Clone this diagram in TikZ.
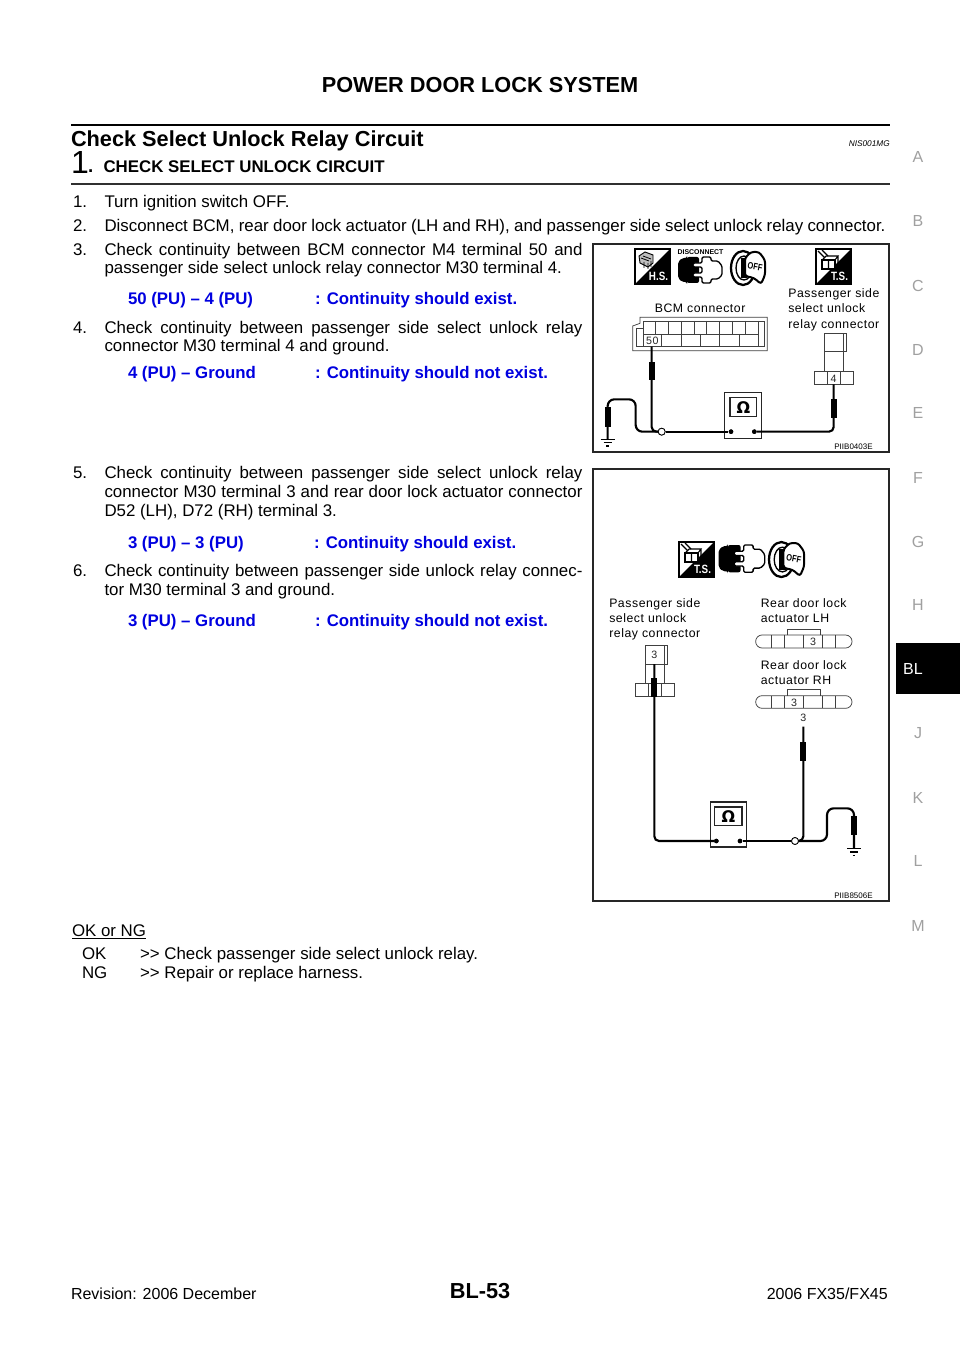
\documentclass[tikz,border=0pt]{standalone}
\usepackage{fontspec}
\usepackage{graphicx}
\setmainfont{Liberation Sans}
\newfontfamily\dejavu{DejaVu Sans}
\definecolor{linkblue}{HTML}{0000E0}
\definecolor{tabgray}{HTML}{A0A0A0}
\definecolor{rulegray}{HTML}{303030}
\newcommand{\fsz}[1]{\fontsize{#1}{#1}\selectfont}
\newcommand{\lbl}{\fsz{9.2}\addfontfeature{LetterSpace=4.5}}
\newcommand{\jline}[1]{\makebox[358.5pt][s]{#1}}
\tikzset{
 txt/.style={anchor=base west,inner sep=0pt,outer sep=0pt,font=\fsz{12.65}},
 bluetxt/.style={txt,text=linkblue,font=\fsz{12.6}\bfseries},
 side/.style={inner sep=0pt,text=tabgray,font=\fsz{12}},
 code/.style={anchor=base,inner sep=0pt,font=\fsz{6}},
 dlabel/.style={anchor=base west,inner sep=0pt,font=\lbl},
 term/.style={inner sep=0pt,font=\fsz{8}\addfontfeature{LetterSpace=4},text=black!85},
 thin line/.style={draw=black!75,line width=.55pt},
 frame/.style={draw=black!85,line width=1pt},
 wire/.style={draw=black,line width=1.6pt,rounded corners=3.5pt},
 sleeve/.style={fill=black,draw=none},
 dot/.style={circle,fill=black,inner sep=0pt,minimum size=3.4pt},
 joint/.style={circle,draw=black,fill=white,line width=.6pt,inner sep=0pt,minimum size=5.2pt},
}
\newcommand{\badge}[3]{%
 \begin{scope}[shift={(#1,#2)}]
  \draw[black,line width=.8pt,fill=white] (0,0) rectangle (35,35);
  \fill[black] (35,0) -- (35,35) -- (0,35) -- cycle;
  \node[inner sep=0pt,text=white,font=\fsz{9}\bfseries] at (23.5,27.5) {\scalebox{.82}[1]{#3}};
 \end{scope}}
\newcommand{\hsglyph}[2]{%
 \begin{scope}[shift={(#1,#2)}]
  \draw[black,line width=.7pt,fill=black!25] (3,6) -- (9,2) -- (17,5) -- (17,13) -- (12,17) -- (4,13) -- cycle;
  \draw[black,line width=.6pt] (5,8) -- (13,11) (7,6) -- (15,9) (8,12) -- (8,18) (12,13) -- (12,19) (15,11) -- (15,17);
 \end{scope}}
\newcommand{\tsglyph}[2]{%
 \begin{scope}[shift={(#1,#2)}]
  \draw[black,line width=.8pt,fill=white] (6,11) rectangle (19,20);
  \draw[black,line width=.8pt] (12.5,11) -- (12.5,20) (6,11) -- (10,7) -- (22,7) -- (19,11) (22,7) -- (22,15) -- (19,20);
  \draw[black,line width=1pt] (2,2) -- (9,9) (6,1) -- (12,7);
 \end{scope}}
\newcommand{\plugs}[3]{%
 \begin{scope}[shift={(#1,#2)},scale=#3]
  \fill[black,rounded corners=1.5pt] (0,5) -- (4,1) -- (9,1) -- (9,0) -- (21,0) -- (21,26) -- (9,26) -- (9,25) -- (4,25) -- (0,21) -- cycle;
  \draw[black,line width=1pt,fill=white,rounded corners=1pt] (24,0) -- (33,0) -- (33,4) -- (40,4) -- (44,9) -- (44,18) -- (40,22) -- (33,22) -- (33,26) -- (24,26) -- (24,20) -- (15,20) -- (15,16) -- (24,16) -- (24,10) -- (15,10) -- (15,6) -- (24,6) -- cycle;
 \end{scope}}
\newcommand{\keyicon}[3]{%
 \begin{scope}[shift={(#1,#2)},scale=#3]
  \draw[black,line width=1.7pt,fill=white] (13,18) ellipse (12 and 17);
  \draw[black,line width=1pt,fill=white] (14,18) ellipse (8 and 12);
  \fill[black] (11,8) rectangle (17,28);
  \draw[black,line width=1.5pt,fill=white,rounded corners=2pt] (15,8) -- (21,2) -- (29,2) -- (35,10) -- (35,25) -- (31,34) -- (24,28) -- (15,26) -- cycle;
  \node[inner sep=0pt,font=\fsz{7}\bfseries,rotate=-10] at (25,17) {\scalebox{.8}[1]{OFF}};
 \end{scope}}
\newcommand{\groundsym}[1]{%
 \draw[black,line width=.9pt] ([xshift=-5.2pt]#1) -- ([xshift=5.2pt]#1);
 \draw[black,line width=.9pt] ([xshift=-3pt,yshift=-2.5pt]#1) -- ([xshift=3pt,yshift=-2.5pt]#1);
 \draw[black,line width=.9pt] ([xshift=-1pt,yshift=-5pt]#1) -- ([xshift=1pt,yshift=-5pt]#1);}
\begin{document}
\begin{tikzpicture}[x=0.75pt,y=-0.75pt]
\useasboundingbox (0,0) rectangle (960,1358);
\fill[white] (0,0) rectangle (960,1358);
% header
\node[inner sep=0pt,anchor=base,font=\fsz{16.3}\bfseries] (head) at (480,93) {POWER DOOR LOCK SYSTEM};
\draw[black,line width=2.2pt] (71,125) -- (890,125);
\node[txt,font=\fsz{16.3}\bfseries] (title) at (71,147) {Check Select Unlock Relay Circuit};
\node[anchor=base east,inner sep=0pt,font=\fsz{6.2}\itshape] (nis) at (890,147) {NIS001MG};
\node[txt,font=\fsz{24}] (one) at (71,174) {1};
\node[txt,font=\fsz{14}\bfseries] (onedot) at (88,173) {.};
\node[txt,font=\fsz{12.65}\bfseries] (sec) at (103.5,172.5) {CHECK SELECT UNLOCK CIRCUIT};
\draw[rulegray,line width=.8pt] (71,184) -- (890,184);
% steps
\node[txt] (n1) at (73,208) {1.}; \node[txt] (s1) at (104.5,208) {Turn ignition switch OFF.};
\node[txt] (n2) at (73,232) {2.}; \node[txt] (s2) at (104.5,232) {\makebox[585.75pt][s]{Disconnect BCM, rear door lock actuator (LH and RH), and passenger side select unlock relay connector.}};
\node[txt] (n3) at (73,255.5) {3.}; \node[txt] (s3a) at (104.5,255.5) {\jline{Check continuity between BCM connector M4 terminal 50 and}};
\node[txt] (s3b) at (104.5,273.5) {passenger side select unlock relay connector M30 terminal 4.};
\node[bluetxt] (c1a) at (128,304.5) {50 (PU) – 4 (PU)}; \node[bluetxt] (c1b) at (315,304.5) {: Continuity should exist.};
\node[txt] (n4) at (73,333.5) {4.}; \node[txt] (s4a) at (104.5,333.5) {\jline{Check continuity between passenger side select unlock relay}};
\node[txt] (s4b) at (104.5,351.5) {connector M30 terminal 4 and ground.};
\node[bluetxt] (c2a) at (128,378.5) {4 (PU) – Ground}; \node[bluetxt] (c2b) at (315,378.5) {: Continuity should not exist.};
\node[txt] (n5) at (73,478.5) {5.}; \node[txt] (s5a) at (104.5,478.5) {\jline{Check continuity between passenger side select unlock relay}};
\node[txt] (s5b) at (104.5,497.5) {\jline{connector M30 terminal 3 and rear door lock actuator connector}};
\node[txt] (s5c) at (104.5,516.5) {D52 (LH), D72 (RH) terminal 3.};
\node[bluetxt] (c3a) at (128,548) {3 (PU) – 3 (PU)}; \node[bluetxt] (c3b) at (314,548) {: Continuity should exist.};
\node[txt] (n6) at (73,576.5) {6.}; \node[txt] (s6a) at (104.5,576.5) {\jline{Check continuity between passenger side unlock relay connec-}};
\node[txt] (s6b) at (104.5,595) {tor M30 terminal 3 and ground.};
\node[bluetxt] (c4a) at (128,626) {3 (PU) – Ground}; \node[bluetxt] (c4b) at (315,626) {: Continuity should not exist.};
\node[txt] (okng) at (72,936) {OK or NG};
\draw[black,line width=.6pt] (72,938.5) -- (146,938.5);
\node[txt] (ok) at (82,959) {OK}; \node[txt] (okt) at (140,959) {>{}> Check passenger side select unlock relay.};
\node[txt] (ng) at (82,978) {NG}; \node[txt] (ngt) at (140,978) {>{}> Repair or replace harness.};
% footer
\node[txt,font=\fsz{12}] (rev) at (71,1299) {Revision: 2006 December};
\node[anchor=base,inner sep=0pt,font=\fsz{16.3}\bfseries] (pg) at (480,1298) {BL-53};
\node[anchor=base east,inner sep=0pt,font=\fsz{12}] (mdl) at (888,1299) {2006 FX35/FX45};
% side tab
\fill[black] (896,643) rectangle (960,694);
\node[side] (tA) at (918,157) {A}; \node[side] (tB) at (918,221) {B}; \node[side] (tC) at (918,286) {C};
\node[side] (tD) at (918,350) {D}; \node[side] (tE) at (918,413) {E}; \node[side] (tF) at (918,478) {F};
\node[side] (tG) at (918,542) {G}; \node[side] (tH) at (918,605) {H};
\node[side,text=white] (tBL) at (913,669) {BL};
\node[side] (tJ) at (918,733) {J}; \node[side] (tK) at (918,798) {K}; \node[side] (tL) at (918,861) {L}; \node[side] (tM) at (918,926) {M};
% ---------- figure 1 ----------
\draw[frame] (593,244) rectangle (889,452);
\badge{635}{249}{H.S.}\hsglyph{636}{250}
\badge{816}{249}{T.S.}\tsglyph{816}{249}
\node[inner sep=0pt,font=\fsz{5.2}\bfseries] (disc) at (700.5,252.5) {DISCONNECT};
\plugs{678}{257}{1}
\keyicon{730}{250}{1}
\node[dlabel] (bcm) at (654.5,313) {BCM connector};
\node[dlabel] (p1a) at (788,297.5) {Passenger side};
\node[dlabel] (p1b) at (788,313) {select unlock};
\node[dlabel] (p1c) at (788,328.5) {relay connector};
\begin{scope}[shift={(590,240)},x=0.25pt,y=-0.25pt]
 \draw[thin line] (128,332) -- (532,332) -- (532,232) -- (150,232) -- (150,250) -- (128,258) -- cycle;
 \draw[thin line] (138,320) -- (522,320) -- (522,243) -- (160,243) -- (160,265) -- (138,265) -- cycle;
 \draw[thin line] (160,282) -- (505,282) (505,243) -- (505,320) (160,265) -- (160,320);
 \foreach \x in {197,235,275,312,350,388,427,465} \draw[thin line] (\x,243) -- (\x,282);
 \foreach \x in {215,275,330,388,447} \draw[thin line] (\x,282) -- (\x,320);
 \node[term] (t50) at (187,302) {50};
 \draw[thin line] (702,280) rectangle (770,335);
 \draw[thin line] (760,280) -- (760,335);
 \draw[thin line] (702,335) -- (702,395) (760,335) -- (760,395) (702,335) -- (760,335);
 \draw[thin line] (673,395) rectangle (790,433);
 \draw[thin line] (712,395) -- (712,433) (750,395) -- (750,433);
 \node[term] (t4) at (731,415) {4};
 \draw[black!85,line width=.9pt] (404,458) rectangle (514,595);
 \draw[black!85,line width=.9pt] (420,472) rectangle (500,530);
 \node[inner sep=0pt,font=\fsz{12}\bfseries\dejavu] (om1) at (460,503) {Ω};
 \coordinate (w50) at (185,320);
 \coordinate (w4) at (731,433);
 \node[dot] (ml1) at (423,575) {};
 \node[dot] (mr1) at (493,575) {};
 \coordinate (g1) at (53,598);
 \node[joint] (j1) at (215,575) {};
 \draw[wire] (mr1) -- (731,575) -- (w4);
 \draw[wire] (w50) -- (185,575) -- (j1);
 \draw[wire] (j1) -- (ml1);
 \draw[wire,rounded corners=5pt] (j1) -- (137,575) -- (137,478) -- (53,478) -- (g1);
 \node[joint] at (j1) {};
 \node[dot] at (ml1) {}; \node[dot] at (mr1) {};
 \fill[sleeve] (176,365) rectangle (194,420);
 \fill[sleeve] (724,478) rectangle (742,535);
 \fill[sleeve] (45,500) rectangle (62,560);
 \groundsym{g1}
\end{scope}
\node[code] (c1) at (853.5,449) {PIIB0403E};
% ---------- figure 2 ----------
\draw[frame] (593,469) rectangle (889,901);
\badge{679}{542}{T.S.}\tsglyph{679}{542}
\plugs{718.5}{545}{1.05}
\keyicon{768}{541}{1.03}
\node[dlabel] (p2a) at (609,607) {Passenger side};
\node[dlabel] (p2b) at (609,622) {select unlock};
\node[dlabel] (p2c) at (609,637.5) {relay connector};
\node[dlabel] (lha) at (760.5,607) {Rear door lock};
\node[dlabel] (lhb) at (760.5,622) {actuator LH};
\node[dlabel] (rha) at (760.5,669.5) {Rear door lock};
\node[dlabel] (rhb) at (760.5,684.5) {actuator RH};
\begin{scope}[shift={(590,530)},x=0.25pt,y=-0.25pt]
 \draw[thin line] (165,345) rectangle (233,402);
 \draw[thin line] (222,345) -- (222,402);
 \node[term] (t3a) at (193,375) {3};
 \draw[thin line] (165,402) -- (165,460) (222,402) -- (222,460);
 \draw[thin line] (135,460) rectangle (252,498);
 \draw[thin line] (175,460) -- (175,498) (213,460) -- (213,498);
 % LH connector
 \draw[thin line] (592,315) -- (592,297) -- (690,297) -- (690,315);
 \draw[thin line,rounded corners=4.8pt] (497,315) rectangle (786,354);
 \foreach \x in {545,583,640,698,737} \draw[thin line] (\x,315) -- (\x,354);
 \node[term] (t3b) at (669,336) {3};
 % RH connector
 \draw[thin line] (592,497) -- (592,478) -- (690,478) -- (690,497);
 \draw[thin line,rounded corners=4.8pt] (497,497) rectangle (786,535);
 \foreach \x in {545,583,640,698,737} \draw[thin line] (\x,497) -- (\x,535);
 \node[term] (t3c) at (612,518) {3};
 \node[term] (t3d) at (640,564) {3};
 \coordinate (w3a) at (193,402);
 \coordinate (w3d) at (640,590);
 \draw[black!85,line width=.9pt] (361,816) rectangle (469,951);
 \draw[black!85,line width=.9pt] (374,831) rectangle (456,887);
 \node[inner sep=0pt,font=\fsz{12}\bfseries\dejavu] (om2) at (415,861) {Ω};
 \node[dot] (ml2) at (379,933) {};
 \node[dot] (mr2) at (450,933) {};
 \node[joint] (j2) at (615,933) {};
 \coordinate (g2) at (792,956);
 \draw[wire] (w3a) -- (193,933) -- (ml2);
 \draw[wire] (mr2) -- (j2);
 \draw[wire] (w3d) -- (640,933) -- (j2);
 \draw[wire,rounded corners=5pt] (j2) -- (711,933) -- (711,835) -- (792,835) -- (g2);
 \node[joint] at (j2) {};
 \node[dot] at (ml2) {}; \node[dot] at (mr2) {};
 \fill[sleeve] (184,444) rectangle (202,502);
 \fill[sleeve] (631,635) rectangle (649,692);
 \fill[sleeve] (784,858) rectangle (801,914);
 \groundsym{g2}
\end{scope}
\node[code] (c2) at (853.5,898) {PIIB8506E};
\end{tikzpicture}
\end{document}
